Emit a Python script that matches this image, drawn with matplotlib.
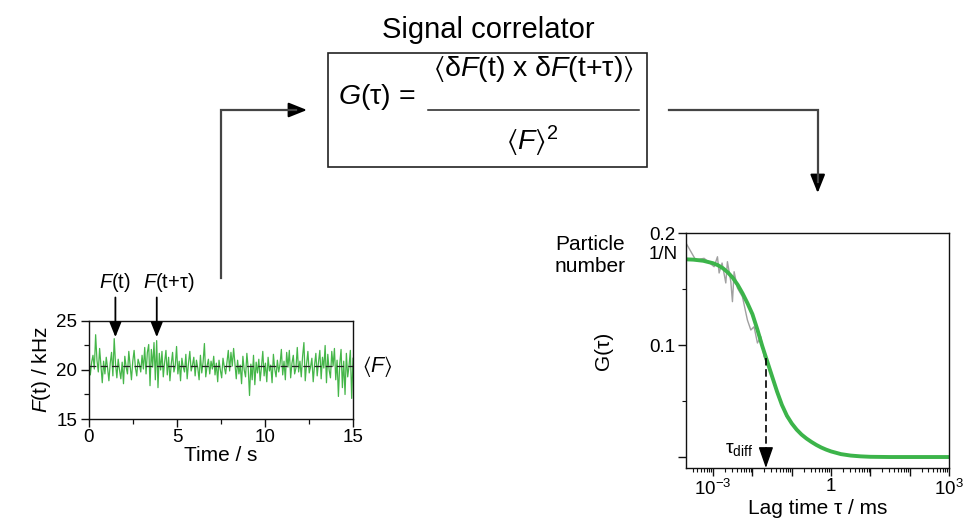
import numpy as np
import matplotlib
matplotlib.use('Agg')
import matplotlib.pyplot as plt
from matplotlib.patches import Rectangle, FancyArrowPatch
from matplotlib.lines import Line2D
from matplotlib.ticker import FixedLocator, NullFormatter

plt.rcParams['font.family'] = ['Liberation Sans', 'DejaVu Sans']
plt.rcParams['mathtext.fontset'] = 'custom'
plt.rcParams['mathtext.rm'] = 'Liberation Sans'
plt.rcParams['mathtext.it'] = 'Liberation Sans:italic'
plt.rcParams['mathtext.bf'] = 'Liberation Sans:bold'
plt.rcParams['mathtext.sf'] = 'Liberation Sans'
plt.rcParams['mathtext.fallback'] = 'stixsans'

# ---------------- data ----------------
# fluorescence trace F(t) in kHz, 0..15 s
trace_khz = [
    21.2, 19.5, 20.8, 21.5, 20.1, 23.6, 21.0, 19.8, 22.2, 20.4, 18.7, 20.9, 19.6, 21.3,
    20.2, 18.9, 20.7, 21.8, 19.4, 23.2, 20.6, 19.2, 21.1, 20.0, 19.1, 20.8, 18.6,
    21.4, 20.3, 19.6, 21.9, 20.5, 19.0, 20.9, 22.0, 20.2, 19.4, 21.1, 20.6, 19.8, 21.5,
    20.1, 22.3, 19.6, 21.8, 22.6, 18.4, 22.1, 20.3, 22.8, 19.0, 23.0, 18.2, 21.7,
    20.0, 21.9, 19.3, 20.8, 22.0, 19.5, 21.3, 18.9, 20.6, 21.8, 19.8, 20.4, 22.4,
    19.6, 20.9, 18.9, 21.2, 20.3, 19.8, 21.6, 19.1, 20.7, 21.9, 19.9, 20.5, 21.3,
    19.4, 21.0, 20.2, 19.0, 21.5, 19.7, 20.8, 22.7, 19.3, 20.4, 21.1, 19.6, 20.9, 20.1,
    21.4, 19.5, 20.7, 18.8, 21.0, 20.0, 19.2, 21.2, 20.3, 19.6, 20.8, 22.0, 19.9,
    21.8, 20.4, 22.2, 20.6, 19.1, 21.0, 19.6, 20.5, 18.6, 21.4, 20.0, 19.3, 21.7,
    20.2, 17.4, 20.6, 19.0, 21.5, 18.5, 20.8, 19.7, 21.1, 18.9, 20.3, 21.9, 19.4, 20.7,
    18.8, 21.3, 19.9, 20.5, 18.7, 21.6, 20.1, 19.3, 21.0, 19.8, 20.6, 22.1, 19.5,
    20.9, 19.0, 21.8, 20.3, 22.0, 19.2, 20.7, 21.5, 19.6, 20.2, 22.3, 19.8, 20.9,
    19.3, 21.4, 22.8, 18.9, 20.6, 21.9, 19.7, 20.3, 21.2, 18.8, 20.5, 21.7, 19.4, 20.8,
    22.0, 19.1, 21.3, 20.2, 22.5, 18.7, 21.6, 20.0, 19.2, 21.9, 20.4, 22.2, 19.0,
    21.0, 17.3, 20.6, 22.1, 18.2, 20.9, 17.5, 21.7, 19.3, 20.4, 22.0, 17.1, 21.2,
]
trace_t_end = 15.0
mean_khz = 20.4
t_marker_1 = 1.5      # F(t)
t_marker_2 = 3.85     # F(t+tau)

# measured correlation curve (grey)
data_tau_ms = [2.02e-4, 3.6e-4, 5.9e-4, 1.06e-3, 1.29e-3, 1.42e-3, 1.69e-3, 2.10e-3,
               2.31e-3, 2.82e-3, 3.10e-3, 3.42e-3, 4.15e-3, 5.56e-3, 7.45e-3, 9.1e-3,
               1.10e-2, 1.34e-2, 1.63e-2, 1.98e-2, 2.8e-2, 4.2e-2, 7.4e-2, 0.16, 0.35,
               0.78, 1.7, 4.5, 12.0, 100.0, 1000.0]
data_G = [0.1913, 0.1759, 0.1774, 0.1699, 0.1788, 0.1643, 0.1732, 0.1554,
          0.1744, 0.1565, 0.1387, 0.1654, 0.1509, 0.1431, 0.1223, 0.1134,
          0.1163, 0.1018, 0.1074, 0.0896, 0.0775, 0.0570, 0.0355, 0.0212, 0.0120,
          0.0064, 0.0025, 0.0009, 0.0002, 0.0, 0.0]

# fitted curve (green)
fit_tau_ms = [2.04e-4, 3.16e-4, 5.62e-4, 1.0e-3, 1.33e-3, 1.78e-3, 2.37e-3, 3.16e-3,
              4.22e-3, 5.62e-3, 7.50e-3, 1.0e-2, 1.33e-2, 1.78e-2, 2.37e-2, 3.16e-2,
              4.22e-2, 5.62e-2, 7.50e-2, 0.1, 0.133, 0.178, 0.237, 0.316, 0.422, 0.562,
              0.750, 1.0, 1.78, 3.16, 5.62, 10.0, 31.6, 1000.0]
fit_G = [0.1765, 0.1762, 0.1752, 0.1730, 0.1712, 0.1685, 0.1648, 0.1600,
         0.1537, 0.1460, 0.1372, 0.1275, 0.1140, 0.0990, 0.0855, 0.0720,
         0.0585, 0.0465, 0.0370, 0.0300, 0.0245, 0.0200, 0.0165, 0.0135, 0.0108, 0.0085,
         0.0066, 0.0050, 0.0026, 0.0013, 0.0006, 0.0002, 0.0, 0.0]

G0 = 0.176           # 1/N
tau_diff_ms = 0.022
G_at_tau_diff = 0.088

# ---------------- figure ----------------
W, H = 967, 522
fig = plt.figure(figsize=(W / 100, H / 100), dpi=100)


def fx(x):
    return x / W


def fy(y):
    return 1 - y / H


line_col = '#444444'
spine_col = '#111111'
green_trace = '#45b649'
green_fit = '#3cb44a'

# ---- left: intensity trace ----
ax1 = fig.add_axes([fx(89), fy(419), (353 - 89) / W, (419 - 321) / H])
t = np.linspace(0, trace_t_end, len(trace_khz))
ax1.plot(t, trace_khz, color=green_trace, lw=0.9)
ax1.axhline(mean_khz, color='#222222', lw=0.9, ls=(0, (5.5, 3.5)))
ax1.set_xlim(0, 15)
ax1.set_ylim(15, 25)
ax1.set_xticks([0, 5, 10, 15])
ax1.set_yticks([15, 20, 25])
ax1.xaxis.set_minor_locator(FixedLocator([2.5, 7.5, 12.5]))
ax1.yaxis.set_minor_locator(FixedLocator([17.5, 22.5]))
ax1.tick_params(which='major', direction='out', length=5.5, width=1.0, labelsize=13.5,
                color=spine_col, pad=2)
ax1.tick_params(which='minor', direction='out', length=3.5, width=0.9, color=spine_col)
ax1.tick_params(axis='y', pad=3)
for s in ax1.spines.values():
    s.set_linewidth(1.0)
    s.set_color(spine_col)
ax1.set_xlabel('Time / s', fontsize=15, labelpad=0)
ax1.set_ylabel('$F$(t) / kHz', fontsize=15, labelpad=2)

arrow_kw = dict(arrowstyle='-|>,head_length=0.7,head_width=0.28', color='black',
                lw=1.3, mutation_scale=13, shrinkA=0, shrinkB=0)
for tm in [t_marker_1, t_marker_2]:
    ax1.annotate('', xy=(tm, 23.35), xytext=(tm, 27.4), arrowprops=arrow_kw,
                 annotation_clip=False)
ax1.text(t_marker_1 - 0.05, 28.9, '$F$(t)', ha='center', va='center', fontsize=14.5,
         clip_on=False)
ax1.text(t_marker_2 + 0.7, 28.9, r'$F$(t${+}$τ)', ha='center', va='center', fontsize=14.5,
         clip_on=False)
ax1.annotate(r'$\langle F\rangle$', xy=(1.0, mean_khz), xycoords=('axes fraction', 'data'),
             xytext=(24, 0), textcoords='offset pixels', ha='center', va='center',
             fontsize=15.5)

# ---- right: correlation curve ----
ax2 = fig.add_axes([fx(686), fy(468), (949 - 686) / W, (468 - 233) / H])
ax2.set_xscale('log')
ax2.plot(data_tau_ms, data_G, color='#a0a0a0', lw=1.0)
ax2.plot(fit_tau_ms, fit_G, color=green_fit, lw=2.8, solid_capstyle='butt',
         solid_joinstyle='round')
ax2.set_xlim(10 ** -3.69, 1e3)
ax2.set_ylim(-0.0098, 0.2)
ax2.set_xticks([1e-3, 1e-2, 1e-1, 1, 1e1, 1e2, 1e3])
ax2.set_xticklabels(['$10^{-3}$', '', '', '1', '', '', '$10^{3}$'])
minors = [m * 10.0 ** e for e in range(-4, 3) for m in range(2, 10)]
ax2.xaxis.set_minor_locator(FixedLocator(minors))
ax2.xaxis.set_minor_formatter(NullFormatter())
ax2.set_yticks([0.0, 0.1, 0.2])
ax2.set_yticklabels(['', '0.1', '0.2'])
ax2.yaxis.set_minor_locator(FixedLocator([0.05, 0.15]))
ax2.tick_params(which='major', direction='out', length=5.5, width=1.0, labelsize=13.5,
                color=spine_col, pad=2)
ax2.tick_params(which='minor', direction='out', length=3.0, width=0.8, color=spine_col)
ax2.tick_params(axis='y', pad=2)
for s in ax2.spines.values():
    s.set_linewidth(1.0)
    s.set_color(spine_col)
ax2.set_xlabel('Lag time τ / ms', fontsize=15, labelpad=0)
ax2.set_ylabel('G(τ)', fontsize=15)
ax2.yaxis.set_label_coords((613 - 686) / 263, 0.5)
ax2.annotate('1/N', xy=(0, G0), xycoords=('axes fraction', 'data'), xytext=(-8, 5),
             textcoords='offset pixels', ha='right', va='center', fontsize=13.5)

# dashed arrow at tau_diff
y_bottom = ax2.get_ylim()[0]
head_len = 0.0158
ax2.plot([tau_diff_ms, tau_diff_ms], [G_at_tau_diff, y_bottom + head_len], color='black',
         lw=1.2, ls=(0, (4.5, 2.2)))
ax2.annotate('', xy=(tau_diff_ms, y_bottom), xytext=(tau_diff_ms, y_bottom + head_len),
             arrowprops=dict(arrowstyle='-|>,head_length=1.0,head_width=0.35', color='black',
                             lw=1.0, mutation_scale=13, shrinkA=0, shrinkB=0),
             annotation_clip=False)
ax2.annotate(r'τ$_{\mathrm{diff}}$', xy=(tau_diff_ms, y_bottom), xytext=(-27, 18),
             textcoords='offset pixels', ha='center', va='center', fontsize=14)

fig.text(fx(590), fy(255.5), 'Particle\nnumber', ha='center', va='center', fontsize=15,
         linespacing=1.15)

# ---- correlator box ----
fig.text(fx(488), fy(30), 'Signal correlator', ha='center', va='center', fontsize=21)
fig.add_artist(Rectangle((fx(328), fy(167)), (647 - 328) / W, (167 - 53) / H,
                         transform=fig.transFigure, fill=False, lw=1.2,
                         edgecolor='#222222'))
fs_f = 20.5
fig.text(fx(377), fy(97), r'$G$(τ) =', ha='center', va='center', fontsize=fs_f)
fig.text(fx(533), fy(69), r'$\langle\mathrm{δ}F\mathrm{(t)\ x\ δ}F\mathrm{(t{+}τ)}\rangle$',
         ha='center', va='center', fontsize=fs_f)
fig.add_artist(Line2D([fx(428), fx(639)], [fy(110), fy(110)], transform=fig.transFigure,
                      color='#222222', lw=1.1))
fig.text(fx(532), fy(141), r'$\langle F\rangle^{\mathrm{2}}$', ha='center', va='center',
         fontsize=fs_f)

# ---- flow arrows ----
flow_head = dict(arrowstyle='-|>,head_length=0.8,head_width=0.32', color='black',
                 lw=1.5, mutation_scale=14, shrinkA=0, shrinkB=0)
fig.add_artist(Line2D([fx(220.7), fx(220.7), fx(296)], [fy(278), fy(110), fy(110)],
                      transform=fig.transFigure, color=line_col, lw=1.6,
                      solid_joinstyle='miter'))
fig.add_artist(FancyArrowPatch((fx(292), fy(110)), (fx(307), fy(110)),
                               transform=fig.transFigure, **flow_head))
fig.add_artist(Line2D([fx(669), fx(817.7), fx(817.7)], [fy(110), fy(110), fy(182)],
                      transform=fig.transFigure, color=line_col, lw=1.6,
                      solid_joinstyle='miter'))
fig.add_artist(FancyArrowPatch((fx(817.7), fy(178)), (fx(817.7), fy(193)),
                               transform=fig.transFigure, **flow_head))

fig.savefig('out.png', dpi=100)
